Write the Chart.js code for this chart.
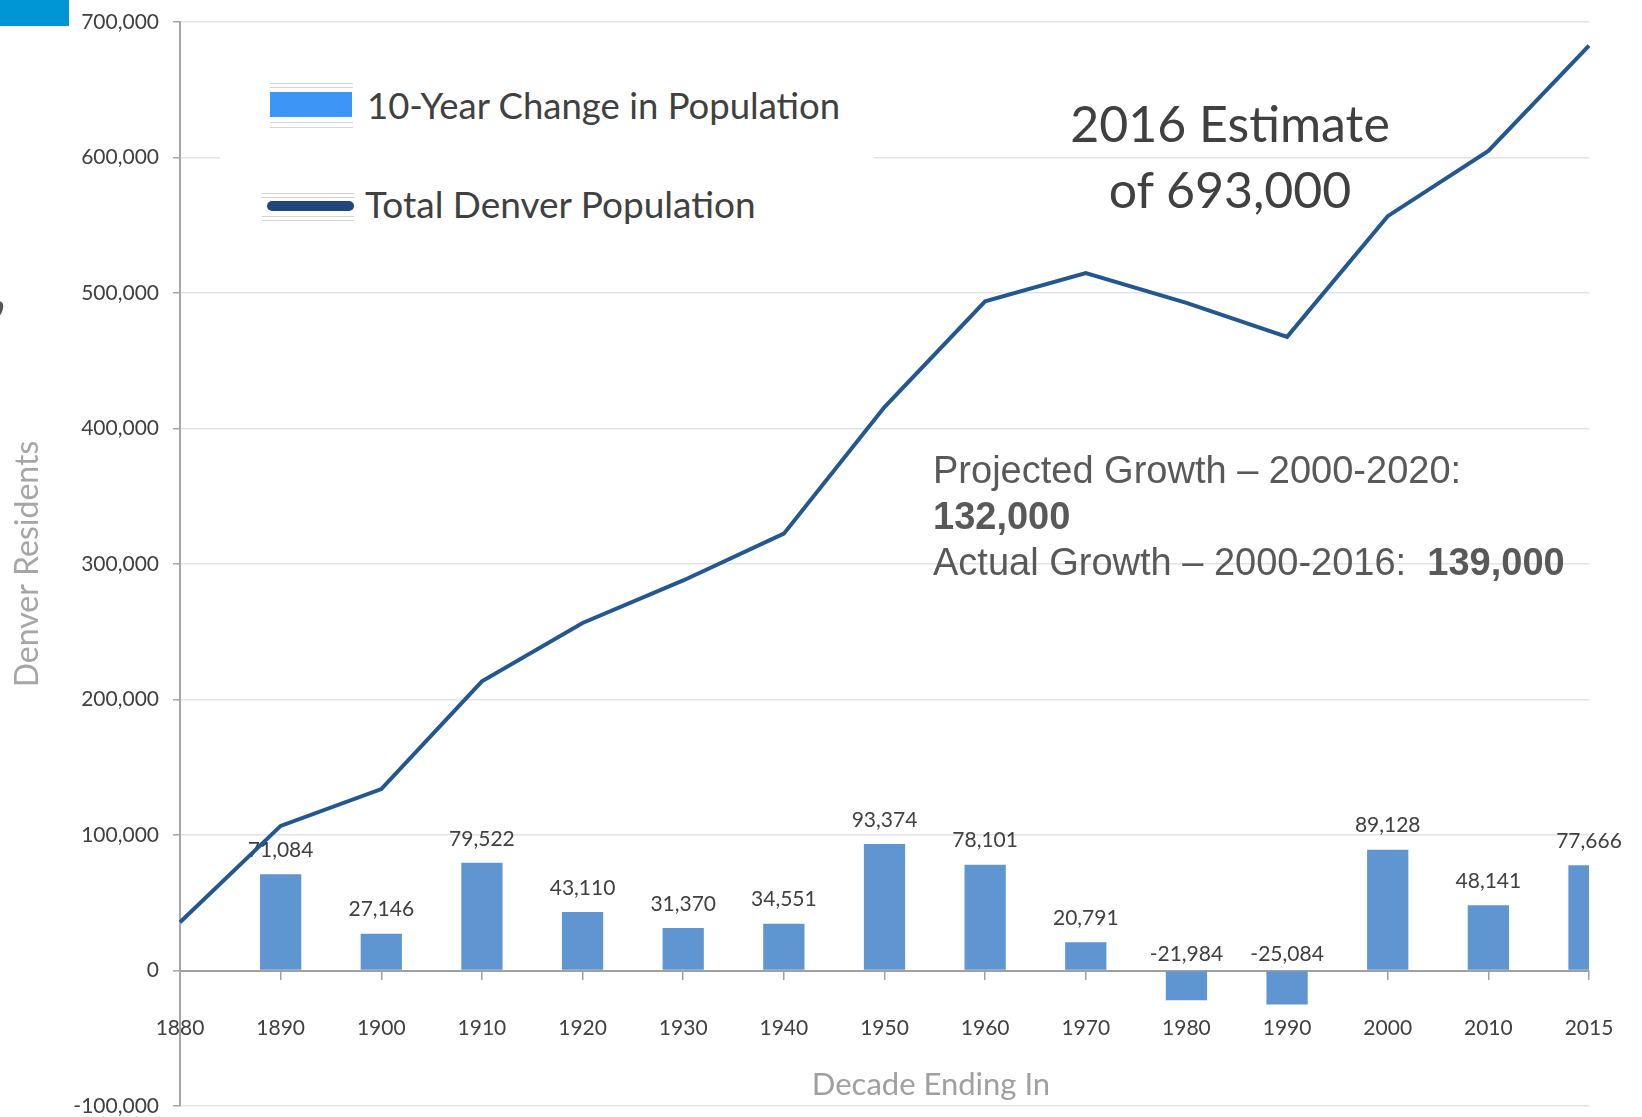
<!DOCTYPE html>
<html>
<head>
<meta charset="utf-8">
<script src="https://cdn.jsdelivr.net/npm/chart.js@4.4.1/dist/chart.umd.min.js"></script>
<style>
    body { margin: 0; background: #fff; }
    #wrap { position: relative; width: 1642px; height: 1117px; overflow: hidden; }
    #popChart { position: absolute; left: 0; top: 0; }
    .ov { position: absolute; white-space: pre; }
    .gill { font-family: Lato, "Open Sans", sans-serif; color: #404040; }
    .arial { font-family: "Liberation Sans", Arial, sans-serif; color: #595959; font-size: 38px; line-height: 46px; }
    .rule { position: absolute; height: 1px; background: #d4d4d4; }
</style>
</head>
<body>
<div id="wrap">
    <canvas id="popChart" width="1642" height="1117"></canvas>

    <!-- bits of the slide around the chart -->
    <div class="ov" style="left:0;top:0;width:69px;height:26px;background:#0096d6"></div>
    <div class="ov" style="left:-9px;top:247px;font:bold 64px Lato, sans-serif;color:#555">,</div>

    <!-- legend (white box hides the gridline behind it) -->
    <div class="ov" style="left:220px;top:66px;width:654px;height:170px;background:#fff"></div>
    <div class="rule" style="left:270px;top:83px;width:83px"></div>
    <div class="rule" style="left:270px;top:87px;width:83px"></div>
    <div class="ov" style="left:270px;top:92px;width:82px;height:25px;background:#3d96f5"></div>
    <div class="rule" style="left:270px;top:122px;width:83px"></div>
    <div class="rule" style="left:270px;top:127px;width:83px"></div>
    <div class="ov gill" style="left:367px;top:83px;font-size:36.5px;line-height:44px">10-Year Change in Population</div>

    <div class="rule" style="left:262px;top:193px;width:92px"></div>
    <div class="rule" style="left:262px;top:197px;width:92px"></div>
    <div class="ov" style="left:267px;top:201px;width:87px;height:10px;border-radius:5px;background:#1f477d"></div>
    <div class="rule" style="left:262px;top:216px;width:92px"></div>
    <div class="rule" style="left:262px;top:220px;width:92px"></div>
    <div class="ov gill" style="left:365px;top:182px;font-size:37px;line-height:44px">Total Denver Population</div>

    <!-- annotations -->
    <div class="ov gill" style="left:980px;top:90px;width:500px;text-align:center;font-size:50px;line-height:66px">2016 Estimate
of 693,000</div>
    <div class="ov arial" style="left:933px;top:447px">Projected Growth – 2000-2020:
<b>132,000</b>
Actual Growth – 2000-2016:  <b>139,000</b></div>

    <div class="ov gill" style="left:781px;top:1063px;width:300px;text-align:center;font-size:31px;line-height:40px;color:#a0a0a0">Decade Ending In</div>
</div>

<script>
// data
const decades = ['1880', '1890', '1900', '1910', '1920', '1930', '1940', '1950',
    '1960', '1970', '1980', '1990', '2000', '2010', '2015'];
const tenYearChange = [null, 71084, 27146, 79522, 43110, 31370, 34551, 93374,
    78101, 20791, -21984, -25084, 89128, 48141, 77666];
const totalPopulation = [35629, 106713, 133859, 213381, 256491, 287861, 322412, 415786,
    493887, 514678, 492694, 467610, 556700, 604900, 682500];
const yMin = -100000, yMax = 700000, yStep = 100000;

// value labels over the bars, drawn before the line so the line sits on top
const barLabels = {
    id: 'barLabels',
    afterDatasetDraw: function (chart, args) {
        if (args.index !== 0) return;
        var ctx = chart.ctx;
        ctx.save();
        ctx.font = '21px Lato, sans-serif';
        ctx.fillStyle = '#404040';
        ctx.textAlign = 'center';
        ctx.textBaseline = 'middle';
        args.meta.data.forEach(function (bar, i) {
            var v = tenYearChange[i];
            if (v === null) return;
            var y = v >= 0 ? bar.y - 24 : bar.base - 17;
            ctx.fillText(v.toLocaleString('en-US'), bar.x, y);
        });
        ctx.restore();
    }
};

var ctx = document.getElementById('popChart').getContext('2d');
var popChart = new Chart(ctx, {
    type: 'bar',
    data: {
        labels: decades,
        datasets: [{
            type: 'bar',
            label: '10-Year Change in Population',
            data: tenYearChange,
            backgroundColor: '#5f96d1',
            barPercentage: 0.41,
            categoryPercentage: 1,
            clip: 0,
            order: 1
        }, {
            type: 'line',
            label: 'Total Denver Population',
            data: totalPopulation,
            borderColor: '#23578f',
            borderWidth: 4,
            pointRadius: 0,
            tension: 0,
            fill: false,
            order: 0
        }]
    },
    options: {
        responsive: false,
        animation: false,
        devicePixelRatio: 1,
        locale: 'en-US',
        layout: { padding: { left: 0, right: 53, top: 22, bottom: 11 } },
        plugins: {
            legend: { display: false },
            tooltip: { enabled: false }
        },
        scales: {
            x: {
                type: 'category',
                position: { y: 0 },
                offset: false,
                afterFit: function (scale) {
                    scale.paddingLeft = 0;
                    scale.paddingRight = 0;
                },
                grid: { offset: false, drawOnChartArea: false, drawTicks: true, tickLength: 8, tickColor: '#a0a0a0', lineWidth: 1.5 },
                border: { color: '#a0a0a0', width: 2 },
                ticks: {
                    autoSkip: false,
                    maxRotation: 0,
                    padding: 37,
                    color: '#404040',
                    font: { family: 'Lato', size: 21 }
                }
            },
            y: {
                min: yMin,
                max: yMax,
                afterFit: function (scale) {
                    scale.width = 180;
                    scale.paddingTop = 0;
                    scale.paddingBottom = 0;
                },
                grid: {
                    color: function (c) { return c.tick && c.tick.value === 0 ? '#a0a0a0' : '#e3e3e3'; },
                    lineWidth: 1.5,
                    tickLength: 7,
                    tickColor: '#a6a6a6'
                },
                border: { color: '#a6a6a6', width: 2 },
                ticks: {
                    stepSize: yStep,
                    padding: 14,
                    color: '#404040',
                    font: { family: 'Lato', size: 21 },
                    callback: function (v) { return v.toLocaleString('en-US'); }
                },
                title: {
                    display: true,
                    text: 'Denver Residents',
                    color: '#a6a6a6',
                    font: { family: 'Lato', size: 32 },
                    padding: { top: 8, bottom: 0 }
                }
            }
        }
    },
    plugins: [barLabels]
});
</script>
</body>
</html>
